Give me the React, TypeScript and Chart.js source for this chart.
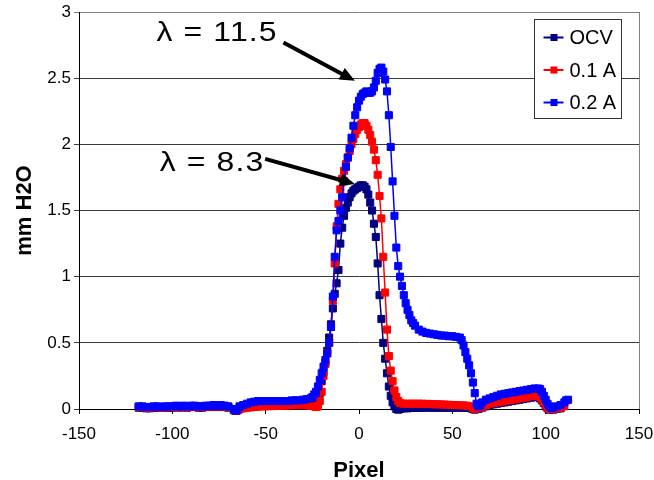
import React, { useEffect, useRef } from 'react';
import { Chart, registerables } from 'chart.js';

Chart.register(...registerables);

const FONT = '"Liberation Sans", Arial, Helvetica, sans-serif';

const SERIES_NAMES = ['OCV', '0.1 A', '0.2 A'];
const SERIES_COLORS = ['#000080', '#FF0000', '#0000FF'];

const X_TITLE = 'Pixel';
const Y_TITLE = 'mm H2O';
const X_MIN = -150;
const X_MAX = 150;
const X_STEP = 50;
const Y_MIN = 0;
const Y_MAX = 3;
const Y_STEP = 0.5;

// OCV
const OCV: [number, number][] = [
  [-118,0.01],[-116,0.01],[-114,0.005],[-112,0.005],[-110,0.01],[-108,0.01],[-106,0.01],[-104,0.012],[-102,0.01],[-100,0.01],
  [-98,0.015],[-96,0.01],[-94,0.015],[-92,0.01],[-90,0.015],[-88,0.015],[-86,0.01],[-84,0.01],[-82,0.015],[-80,0.015],
  [-78,0.015],[-76,0.015],[-74,0.015],[-72,0.015],[-70,0.01],[-67,-0.01],[-66,-0.015],[-65,-0.01],[-64,0.0],[-62,0.01],
  [-60,0.02],[-58,0.025],[-56,0.03],[-54,0.035],[-52,0.04],[-50,0.04],[-48,0.04],[-46,0.04],[-44,0.04],[-42,0.04],
  [-40,0.04],[-38,0.045],[-36,0.045],[-34,0.045],[-32,0.045],[-30,0.05],[-28,0.05],[-26,0.05],[-24,0.05],[-23,0.05],
  [-22,0.06],[-21,0.12],[-20,0.21],[-19,0.28],[-18,0.35],[-17,0.44],[-16,0.54],[-15,0.64],[-14,0.76],[-13,0.87],
  [-12,0.95],[-11,1.05],[-10,1.25],[-9,1.37],[-8,1.46],[-7,1.52],[-6,1.56],[-5,1.6],[-4,1.63],[-3,1.65],
  [-2,1.66],[-1,1.67],[0,1.68],[1,1.69],[2,1.69],[3,1.68],[4,1.66],[5,1.62],[6,1.56],[7,1.5],
  [8,1.4],[9,1.3],[10,1.1],[11,0.86],[12,0.68],[13,0.5],[14,0.38],[15,0.27],[16,0.17],[17,0.1],
  [18,0.05],[19,0.02],[20,0.0],[21,-0.005],[22,0.0],[24,0.005],[26,0.005],[28,0.008],[30,0.008],[32,0.01],
  [34,0.01],[36,0.01],[38,0.01],[40,0.01],[42,0.01],[44,0.01],[46,0.01],[48,0.01],[50,0.01],[52,0.01],
  [54,0.01],[56,0.01],[58,0.008],[60,0.005],[61,0.0],[62,-0.005],[64,0.0],[66,0.01],[68,0.02],[70,0.03],
  [72,0.035],[74,0.04],[76,0.045],[78,0.05],[80,0.055],[82,0.06],[84,0.065],[86,0.07],[88,0.075],[90,0.08],
  [92,0.085],[94,0.09],[96,0.09],[97,0.08],[98,0.065],[99,0.045],[100,0.02],[101,0.005],[102,-0.005],[104,-0.005],
  [106,0.0],[108,0.005],
];

// 0.1 A
const CUR_01A: [number, number][] = [
  [-118,0.015],[-116,0.015],[-114,0.01],[-112,0.01],[-110,0.015],[-108,0.015],[-106,0.01],[-104,0.015],[-102,0.015],[-100,0.015],
  [-98,0.02],[-96,0.015],[-94,0.02],[-92,0.015],[-90,0.02],[-88,0.02],[-86,0.015],[-84,0.015],[-82,0.02],[-80,0.02],
  [-78,0.02],[-76,0.02],[-74,0.02],[-72,0.02],[-70,0.015],[-67,-0.005],[-66,-0.01],[-65,-0.005],[-64,0.0],[-62,0.005],
  [-60,0.01],[-58,0.012],[-56,0.015],[-54,0.018],[-52,0.02],[-50,0.02],[-48,0.022],[-46,0.022],[-44,0.025],[-42,0.025],
  [-40,0.025],[-38,0.028],[-36,0.028],[-34,0.03],[-32,0.03],[-30,0.03],[-28,0.028],[-26,0.025],[-24,0.02],[-23,0.015],
  [-22,0.02],[-21,0.06],[-20,0.13],[-19,0.25],[-18,0.34],[-17,0.42],[-16,0.5],[-15,0.62],[-14,0.82],[-13,1.1],
  [-12,1.38],[-11,1.55],[-10,1.66],[-9,1.74],[-8,1.8],[-7,1.85],[-6,1.9],[-5,1.95],[-4,2.0],[-3,2.04],
  [-2,2.08],[-1,2.11],[0,2.13],[1,2.15],[2,2.16],[3,2.16],[4,2.14],[5,2.11],[6,2.07],[7,2.02],
  [8,1.96],[9,1.88],[10,1.77],[11,1.61],[12,1.44],[13,1.15],[14,0.88],[15,0.6],[16,0.4],[17,0.29],
  [18,0.21],[19,0.14],[20,0.09],[21,0.06],[22,0.045],[24,0.04],[26,0.04],[28,0.04],[30,0.04],[32,0.04],
  [34,0.04],[36,0.038],[38,0.038],[40,0.036],[42,0.035],[44,0.035],[46,0.033],[48,0.032],[50,0.03],[52,0.03],
  [54,0.028],[56,0.027],[58,0.025],[60,0.02],[61,0.008],[62,0.0],[64,0.005],[66,0.015],[68,0.03],[70,0.04],
  [72,0.045],[74,0.05],[76,0.055],[78,0.06],[80,0.065],[82,0.07],[84,0.075],[86,0.08],[88,0.085],[90,0.09],
  [92,0.095],[94,0.1],[96,0.1],[97,0.09],[98,0.075],[99,0.055],[100,0.03],[101,0.01],[102,0.0],[104,0.0],
  [106,0.005],[108,0.01],[110,0.02],
];

// 0.2 A
const CUR_02A: [number, number][] = [
  [-118,0.02],[-116,0.02],[-114,0.015],[-112,0.015],[-110,0.02],[-108,0.02],[-106,0.015],[-104,0.02],[-102,0.02],[-100,0.02],
  [-98,0.025],[-96,0.02],[-94,0.025],[-92,0.02],[-90,0.025],[-88,0.025],[-86,0.02],[-84,0.02],[-82,0.025],[-80,0.025],
  [-78,0.03],[-76,0.025],[-74,0.03],[-72,0.025],[-70,0.02],[-67,0.0],[-66,-0.01],[-65,0.0],[-64,0.02],[-62,0.03],
  [-60,0.04],[-58,0.05],[-56,0.055],[-54,0.06],[-52,0.06],[-50,0.06],[-48,0.06],[-46,0.06],[-44,0.06],[-42,0.06],
  [-40,0.06],[-38,0.06],[-36,0.065],[-34,0.065],[-32,0.065],[-30,0.07],[-28,0.075],[-26,0.08],[-25,0.09],[-24,0.11],
  [-23,0.13],[-22,0.17],[-21,0.22],[-20,0.27],[-19,0.32],[-18,0.37],[-17,0.42],[-16,0.5],[-15,0.62],[-14,0.85],
  [-13,1.15],[-12,1.35],[-11,1.42],[-10,1.5],[-9,1.6],[-8,1.72],[-7,1.83],[-6,1.9],[-5,1.97],[-4,2.05],
  [-3,2.14],[-2,2.22],[-1,2.28],[0,2.33],[1,2.36],[2,2.38],[3,2.39],[4,2.4],[5,2.39],[6,2.39],
  [7,2.4],[8,2.43],[9,2.48],[10,2.54],[11,2.57],[12,2.58],[13,2.55],[14,2.49],[15,2.4],[16,2.22],
  [17,1.98],[18,1.72],[19,1.46],[20,1.22],[21,1.08],[22,1.0],[23,0.93],[24,0.86],[25,0.8],[26,0.75],
  [27,0.71],[28,0.67],[29,0.65],[30,0.63],[32,0.6],[34,0.585],[36,0.575],[38,0.57],[40,0.565],[42,0.56],
  [44,0.555],[46,0.555],[48,0.55],[50,0.55],[52,0.545],[54,0.54],[55,0.52],[56,0.48],[57,0.43],[58,0.38],
  [59,0.33],[60,0.27],[61,0.2],[62,0.12],[63,0.04],[64,0.02],[65,0.03],[66,0.05],[68,0.07],[70,0.08],
  [72,0.09],[74,0.1],[76,0.11],[78,0.115],[80,0.12],[82,0.125],[84,0.13],[86,0.135],[88,0.14],[90,0.145],
  [92,0.15],[94,0.155],[96,0.155],[97,0.15],[98,0.13],[99,0.1],[100,0.07],[101,0.04],[102,0.02],[103,0.01],
  [104,0.01],[106,0.02],[108,0.03],[110,0.05],[111,0.065],[112,0.07],
];

const SERIES_DATA = [OCV, CUR_01A, CUR_02A];

// Callout labels (text anchor and arrow in data coordinates)
const CALLOUT_TEXTS = ['\u03BB = 11.5', '\u03BB = 8.3'];
const CALLOUT_TEXT_AT: [number, number][] = [[-108.5, 2.84], [-106.8, 1.86]];
const CALLOUT_ARROW_FROM: [number, number][] = [[-40.5, 2.77], [-50.3, 1.89]];
const CALLOUT_ARROW_TO: [number, number][] = [[-2.2, 2.48], [-2.2, 1.7]];

const overlayPlugin = {
  id: 'overlay',
  afterDatasetsDraw(chart: any) {
    const { ctx, chartArea } = chart;
    const xs = chart.scales.x;
    const ys = chart.scales.y;
    ctx.save();

    // right border of plot area
    ctx.strokeStyle = '#808080';
    ctx.lineWidth = 1;
    ctx.beginPath();
    const rx = Math.round(chartArea.right) + 0.5;
    ctx.moveTo(rx, chartArea.top);
    ctx.lineTo(rx, chartArea.bottom);
    ctx.stroke();

    // callouts
    ctx.fillStyle = '#000';
    ctx.strokeStyle = '#000';
    CALLOUT_TEXTS.forEach((t, i) => {
      const tx = xs.getPixelForValue(CALLOUT_TEXT_AT[i][0]);
      const ty = ys.getPixelForValue(CALLOUT_TEXT_AT[i][1]);
      ctx.save();
      ctx.translate(tx, ty);
      ctx.scale(1.14, 1);
      ctx.font = `28px ${FONT}`;
      (ctx as any).letterSpacing = '1px';
      ctx.textBaseline = 'middle';
      ctx.textAlign = 'left';
      ctx.fillText(t, 0, 0);
      ctx.restore();
      const x0 = xs.getPixelForValue(CALLOUT_ARROW_FROM[i][0]);
      const y0 = ys.getPixelForValue(CALLOUT_ARROW_FROM[i][1]);
      const x1 = xs.getPixelForValue(CALLOUT_ARROW_TO[i][0]);
      const y1 = ys.getPixelForValue(CALLOUT_ARROW_TO[i][1]);
      const ang = Math.atan2(y1 - y0, x1 - x0);
      const headLen = 15;
      const headHalf = 6.5;
      const bx = x1 - headLen * Math.cos(ang);
      const by = y1 - headLen * Math.sin(ang);
      ctx.lineWidth = 4;
      ctx.lineCap = 'butt';
      ctx.beginPath();
      ctx.moveTo(x0, y0);
      ctx.lineTo(bx + 2 * Math.cos(ang), by + 2 * Math.sin(ang));
      ctx.stroke();
      ctx.beginPath();
      ctx.moveTo(x1, y1);
      ctx.lineTo(bx + headHalf * Math.sin(ang), by - headHalf * Math.cos(ang));
      ctx.lineTo(bx - headHalf * Math.sin(ang), by + headHalf * Math.cos(ang));
      ctx.closePath();
      ctx.fill();
    });

    // legend box
    const lw = 87;
    const lh = 99;
    const lx = Math.round(chartArea.right) - 105 + 0.5;
    const ly = Math.round(chartArea.top) + 7 + 0.5;
    ctx.fillStyle = '#fff';
    ctx.fillRect(lx, ly, lw, lh);
    ctx.strokeStyle = '#333';
    ctx.lineWidth = 1;
    ctx.strokeRect(lx, ly, lw, lh);
    ctx.font = `20px ${FONT}`;
    ctx.textBaseline = 'middle';
    ctx.textAlign = 'left';
    SERIES_NAMES.forEach((name, i) => {
      const cy = ly + 18 + i * 32.5;
      const color = SERIES_COLORS[i];
      ctx.strokeStyle = color;
      ctx.lineWidth = 2;
      ctx.beginPath();
      ctx.moveTo(lx + 9, cy);
      ctx.lineTo(lx + 29, cy);
      ctx.stroke();
      ctx.fillStyle = color;
      ctx.fillRect(lx + 16, cy - 3.5, 7, 7);
      ctx.fillStyle = '#000';
      ctx.fillText(name, lx + 35, cy + 1);
    });

    ctx.restore();
  },
};

export default function App() {
  const canvasRef = useRef<HTMLCanvasElement | null>(null);

  useEffect(() => {
    if (!canvasRef.current) return;
    const datasets = SERIES_NAMES.map((name, i) => ({
      label: name,
      data: SERIES_DATA[i].map(([x, y]) => ({ x, y })),
      showLine: true,
      borderColor: SERIES_COLORS[i],
      backgroundColor: SERIES_COLORS[i],
      borderWidth: 1.5,
      pointStyle: 'rect',
      pointRadius: 5,
      pointBorderWidth: 1,
      pointBorderColor: SERIES_COLORS[i],
      pointBackgroundColor: SERIES_COLORS[i],
      tension: 0,
      clip: false,
      order: SERIES_NAMES.length - 1 - i,
    }));

    const chart = new Chart(canvasRef.current, {
      type: 'scatter',
      data: { datasets } as any,
      plugins: [overlayPlugin],
      options: {
        animation: false,
        responsive: true,
        maintainAspectRatio: false,
        layout: { padding: { left: 0, top: 12, right: 15, bottom: 0 } },
        plugins: {
          legend: { display: false },
          tooltip: { enabled: false },
        },
        scales: {
          x: {
            type: 'linear',
            min: X_MIN,
            max: X_MAX,
            afterFit: (s: any) => {
              s.height = 71;
              s.paddingRight = 0;
              s.paddingLeft = 0;
            },
            ticks: {
              stepSize: X_STEP,
              color: '#000',
              font: { family: FONT, size: 17 },
              padding: 10,
              maxRotation: 0,
              callback: (v: any) => String(v),
            },
            grid: {
              drawOnChartArea: false,
              drawTicks: true,
              tickLength: 5,
              color: '#000',
            },
            border: { display: true, color: '#000', width: 1 },
            title: {
              display: true,
              text: X_TITLE,
              color: '#000',
              font: { family: FONT, size: 22, weight: 'bold' },
              padding: { top: 0, bottom: -4 },
            },
          },
          y: {
            type: 'linear',
            min: Y_MIN,
            max: Y_MAX,
            afterFit: (s: any) => {
              s.width = 79;
              s.paddingTop = 0;
              s.paddingBottom = 0;
            },
            ticks: {
              stepSize: Y_STEP,
              color: '#000',
              font: { family: FONT, size: 17 },
              padding: 3,
              callback: (v: any) => String(Math.round(Number(v) * 10) / 10),
            },
            grid: {
              drawTicks: true,
              tickLength: 5,
              color: (c: any) => (c.tick && c.tick.value === Y_MAX ? '#808080' : '#3a3a3a'),
            },
            border: { display: true, color: '#000', width: 1 },
            title: {
              display: true,
              text: Y_TITLE,
              color: '#000',
              font: { family: FONT, size: 22, weight: 'bold' },
              padding: { top: 12, bottom: 0 },
            },
          },
        },
      } as any,
    });
    return () => chart.destroy();
  }, []);

  return (
    <div style={{ position: 'absolute', left: 0, top: 0, width: 654, height: 480, background: '#fff' }}>
      <canvas ref={canvasRef} />
    </div>
  );
}
